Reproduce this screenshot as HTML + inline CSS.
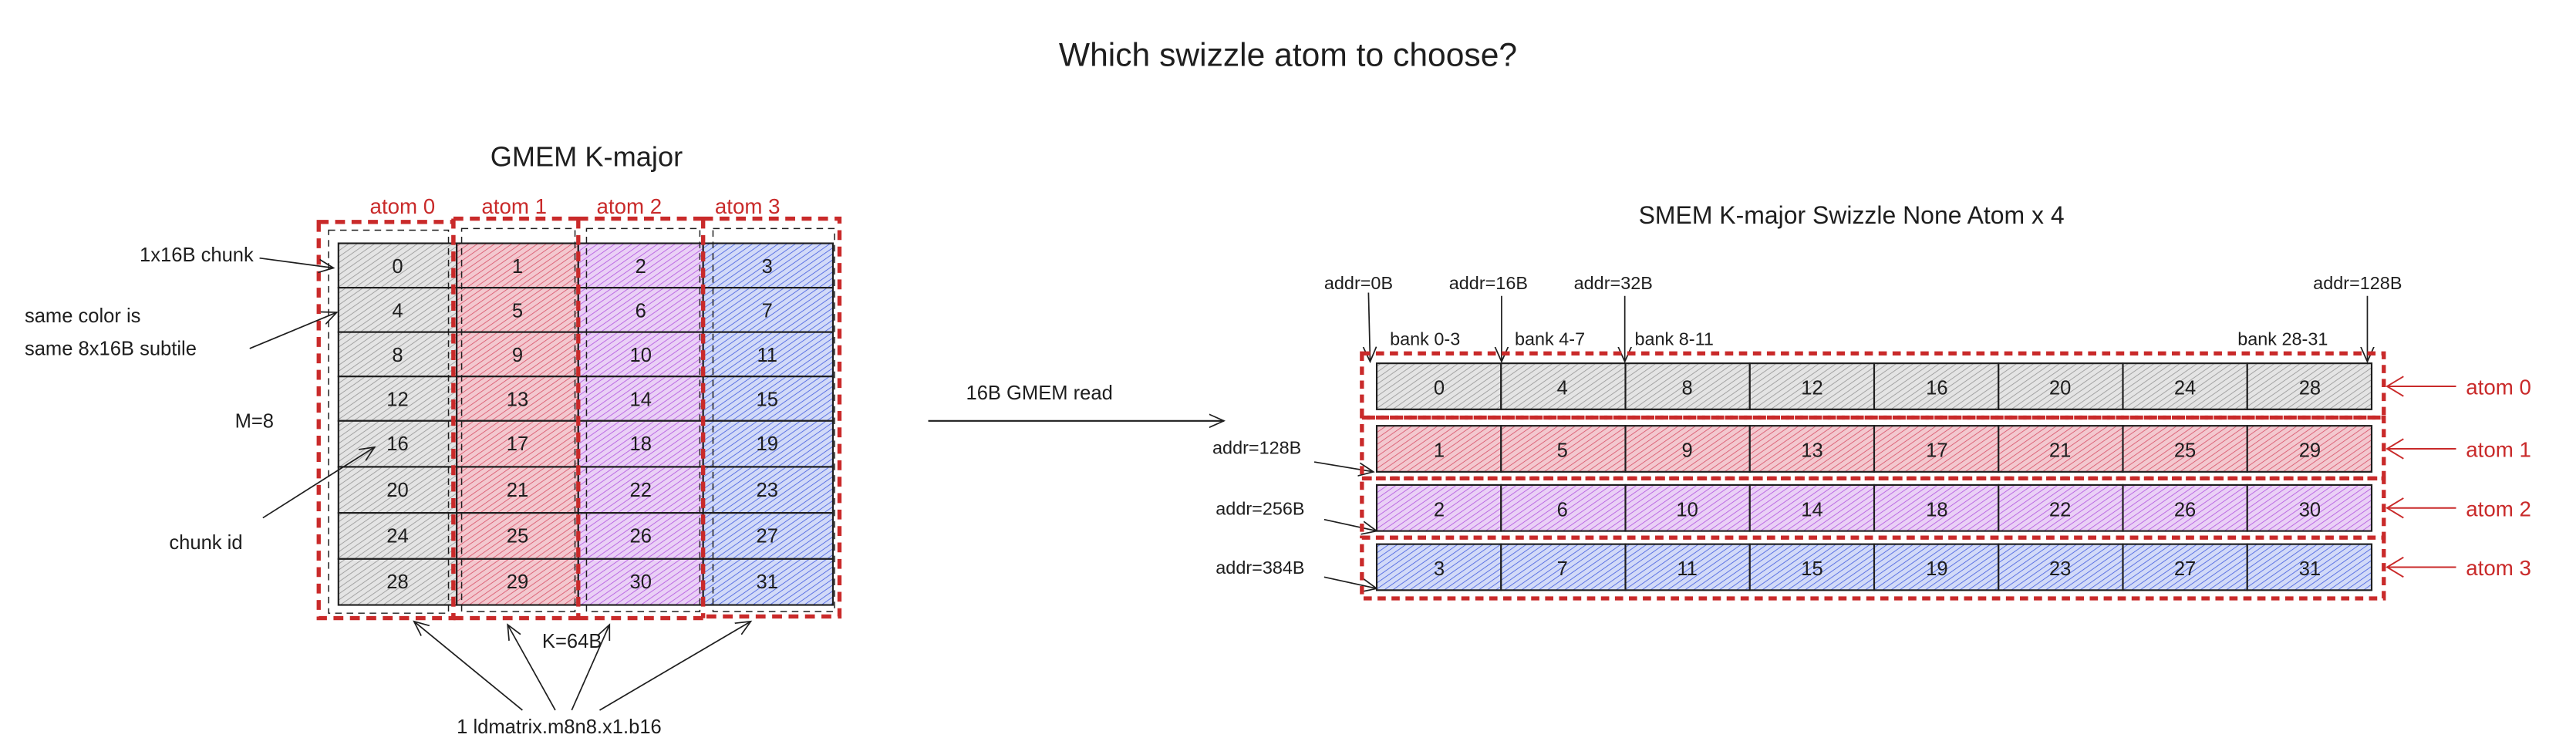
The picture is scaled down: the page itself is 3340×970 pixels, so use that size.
<!DOCTYPE html>
<html><head><meta charset="utf-8"><style>
html,body{margin:0;padding:0;background:#fff;width:3340px;height:970px;overflow:hidden}
svg{display:block}
text{font-family:"Liberation Sans",sans-serif;fill:#1e1e1e}
.r{fill:#c92a2a}
</style></head><body>
<svg width="3340" height="970" viewBox="0 0 1568 455" preserveAspectRatio="none" xmlns="http://www.w3.org/2000/svg">
<defs>
<pattern id="hg" width="3" height="3" patternUnits="userSpaceOnUse" patternTransform="rotate(55)"><rect width="3" height="3" fill="#e4e4e4"/><line x1="0" y1="0" x2="0" y2="3" stroke="#999" stroke-width="0.8"/></pattern>
<pattern id="hr" width="3" height="3" patternUnits="userSpaceOnUse" patternTransform="rotate(55)"><rect width="3" height="3" fill="#f3c8cf"/><line x1="0" y1="0" x2="0" y2="3" stroke="#d9566c" stroke-width="0.8"/></pattern>
<pattern id="hp" width="3" height="3" patternUnits="userSpaceOnUse" patternTransform="rotate(55)"><rect width="3" height="3" fill="#ead0f6"/><line x1="0" y1="0" x2="0" y2="3" stroke="#b45ae0" stroke-width="0.8"/></pattern>
<pattern id="hb" width="3" height="3" patternUnits="userSpaceOnUse" patternTransform="rotate(55)"><rect width="3" height="3" fill="#d2daf8"/><line x1="0" y1="0" x2="0" y2="3" stroke="#4a63e0" stroke-width="0.8"/></pattern>
<marker id="ah" markerWidth="10" markerHeight="10" refX="9" refY="5" orient="auto" markerUnits="userSpaceOnUse"><path d="M0,1 L9,5 L0,9" fill="none" stroke="#1e1e1e" stroke-width="0.8"/></marker>
<marker id="ar" markerWidth="12" markerHeight="14" refX="1" refY="7" orient="auto" markerUnits="userSpaceOnUse"><path d="M11,1 L1,7 L11,13" fill="none" stroke="#c92a2a" stroke-width="0.9"/></marker>
</defs>

<text x="784" y="40" font-size="20" text-anchor="middle">Which swizzle atom to choose?</text>

<text x="357" y="101" font-size="17" text-anchor="middle">GMEM K-major</text>
<g font-size="13" text-anchor="middle">
<text x="245" y="130" class="r">atom 0</text><text x="313" y="130" class="r">atom 1</text><text x="383" y="130" class="r">atom 2</text><text x="455" y="130" class="r">atom 3</text>
</g>
<g stroke="#1e1e1e" stroke-width="1">
<rect x="206" y="148" width="72" height="27" fill="url(#hg)"/><rect x="278" y="148" width="74" height="27" fill="url(#hr)"/><rect x="352" y="148" width="76" height="27" fill="url(#hp)"/><rect x="428" y="148" width="79" height="27" fill="url(#hb)"/>
<rect x="206" y="175" width="72" height="27" fill="url(#hg)"/><rect x="278" y="175" width="74" height="27" fill="url(#hr)"/><rect x="352" y="175" width="76" height="27" fill="url(#hp)"/><rect x="428" y="175" width="79" height="27" fill="url(#hb)"/>
<rect x="206" y="202" width="72" height="27" fill="url(#hg)"/><rect x="278" y="202" width="74" height="27" fill="url(#hr)"/><rect x="352" y="202" width="76" height="27" fill="url(#hp)"/><rect x="428" y="202" width="79" height="27" fill="url(#hb)"/>
<rect x="206" y="229" width="72" height="27" fill="url(#hg)"/><rect x="278" y="229" width="74" height="27" fill="url(#hr)"/><rect x="352" y="229" width="76" height="27" fill="url(#hp)"/><rect x="428" y="229" width="79" height="27" fill="url(#hb)"/>
<rect x="206" y="256" width="72" height="28" fill="url(#hg)"/><rect x="278" y="256" width="74" height="28" fill="url(#hr)"/><rect x="352" y="256" width="76" height="28" fill="url(#hp)"/><rect x="428" y="256" width="79" height="28" fill="url(#hb)"/>
<rect x="206" y="284" width="72" height="28" fill="url(#hg)"/><rect x="278" y="284" width="74" height="28" fill="url(#hr)"/><rect x="352" y="284" width="76" height="28" fill="url(#hp)"/><rect x="428" y="284" width="79" height="28" fill="url(#hb)"/>
<rect x="206" y="312" width="72" height="28" fill="url(#hg)"/><rect x="278" y="312" width="74" height="28" fill="url(#hr)"/><rect x="352" y="312" width="76" height="28" fill="url(#hp)"/><rect x="428" y="312" width="79" height="28" fill="url(#hb)"/>
<rect x="206" y="340" width="72" height="28" fill="url(#hg)"/><rect x="278" y="340" width="74" height="28" fill="url(#hr)"/><rect x="352" y="340" width="76" height="28" fill="url(#hp)"/><rect x="428" y="340" width="79" height="28" fill="url(#hb)"/>
</g>
<g font-size="12" text-anchor="middle">
<text x="242" y="166">0</text><text x="315" y="166">1</text><text x="390" y="166">2</text><text x="467" y="166">3</text>
<text x="242" y="193">4</text><text x="315" y="193">5</text><text x="390" y="193">6</text><text x="467" y="193">7</text>
<text x="242" y="220">8</text><text x="315" y="220">9</text><text x="390" y="220">10</text><text x="467" y="220">11</text>
<text x="242" y="247">12</text><text x="315" y="247">13</text><text x="390" y="247">14</text><text x="467" y="247">15</text>
<text x="242" y="274">16</text><text x="315" y="274">17</text><text x="390" y="274">18</text><text x="467" y="274">19</text>
<text x="242" y="302">20</text><text x="315" y="302">21</text><text x="390" y="302">22</text><text x="467" y="302">23</text>
<text x="242" y="330">24</text><text x="315" y="330">25</text><text x="390" y="330">26</text><text x="467" y="330">27</text>
<text x="242" y="358">28</text><text x="315" y="358">29</text><text x="390" y="358">30</text><text x="467" y="358">31</text>
</g>
<g fill="none" stroke="#1e1e1e" stroke-width="0.7" stroke-dasharray="4 3">
<rect x="200" y="140" width="73" height="233"/><rect x="281" y="139" width="69" height="233"/><rect x="357" y="139" width="69" height="233"/><rect x="434" y="139" width="74" height="233"/>
</g>
<g fill="none" stroke="#c92a2a" stroke-width="2.5" stroke-dasharray="6 4">
<rect x="194" y="135" width="82" height="241"/>
<path d="M276,133 H352 M276,376 H352 M352,133 H428 M352,376 H428 M428,133 H511 V375 H428 M276,133 V376 M352,133 V376 M428,133 V376"/>
</g>
<g font-size="12">
<text x="85" y="159">1x16B chunk</text>
<text x="15" y="196">same color is</text>
<text x="15" y="216">same 8x16B subtile</text>
<text x="143" y="260">M=8</text>
<text x="103" y="334">chunk id</text>
<text x="330" y="394">K=64B</text>
<text x="278" y="446">1 ldmatrix.m8n8.x1.b16</text>
</g>
<g stroke="#1e1e1e" stroke-width="0.8" fill="none" marker-end="url(#ah)">
<line x1="158" y1="157" x2="203" y2="163"/>
<line x1="152" y1="212" x2="205" y2="190"/>
<line x1="160" y1="315" x2="228" y2="272"/>
<line x1="318" y1="432" x2="252" y2="378"/>
<line x1="338" y1="432" x2="309" y2="380"/>
<line x1="348" y1="432" x2="371" y2="380"/>
<line x1="365" y1="432" x2="457" y2="378"/>
</g>

<text x="588" y="243" font-size="12">16B GMEM read</text>
<line x1="565" y1="256" x2="745" y2="256" stroke="#1e1e1e" stroke-width="1" marker-end="url(#ah)"/>

<text x="1127" y="136" font-size="15" text-anchor="middle">SMEM K-major Swizzle None Atom x 4</text>
<g font-size="11">
<text x="806" y="176">addr=0B</text><text x="882" y="176">addr=16B</text><text x="958" y="176">addr=32B</text><text x="1408" y="176">addr=128B</text>
<text x="846" y="210">bank 0-3</text><text x="922" y="210">bank 4-7</text><text x="995" y="210">bank 8-11</text><text x="1362" y="210">bank 28-31</text>
<text x="738" y="276">addr=128B</text><text x="740" y="313">addr=256B</text><text x="740" y="349">addr=384B</text>
</g>
<g stroke="#1e1e1e" stroke-width="0.8" fill="none" marker-end="url(#ah)">
<line x1="833" y1="178" x2="834" y2="220"/><line x1="914" y1="180" x2="914" y2="220"/><line x1="989" y1="180" x2="989" y2="220"/><line x1="1441" y1="180" x2="1441" y2="220"/>
<line x1="800" y1="281" x2="836" y2="287"/><line x1="806" y1="316" x2="838" y2="323"/><line x1="806" y1="351" x2="838" y2="358"/>
</g>
<g stroke="#1e1e1e" stroke-width="1">
<rect x="838" y="221" width="75.7" height="28" fill="url(#hg)"/><rect x="913.7" y="221" width="75.7" height="28" fill="url(#hg)"/><rect x="989.4" y="221" width="75.7" height="28" fill="url(#hg)"/><rect x="1065.1" y="221" width="75.7" height="28" fill="url(#hg)"/><rect x="1140.8" y="221" width="75.7" height="28" fill="url(#hg)"/><rect x="1216.5" y="221" width="75.7" height="28" fill="url(#hg)"/><rect x="1292.2" y="221" width="75.7" height="28" fill="url(#hg)"/><rect x="1367.9" y="221" width="75.7" height="28" fill="url(#hg)"/>
<rect x="838" y="259" width="75.7" height="28" fill="url(#hr)"/><rect x="913.7" y="259" width="75.7" height="28" fill="url(#hr)"/><rect x="989.4" y="259" width="75.7" height="28" fill="url(#hr)"/><rect x="1065.1" y="259" width="75.7" height="28" fill="url(#hr)"/><rect x="1140.8" y="259" width="75.7" height="28" fill="url(#hr)"/><rect x="1216.5" y="259" width="75.7" height="28" fill="url(#hr)"/><rect x="1292.2" y="259" width="75.7" height="28" fill="url(#hr)"/><rect x="1367.9" y="259" width="75.7" height="28" fill="url(#hr)"/>
<rect x="838" y="295" width="75.7" height="28" fill="url(#hp)"/><rect x="913.7" y="295" width="75.7" height="28" fill="url(#hp)"/><rect x="989.4" y="295" width="75.7" height="28" fill="url(#hp)"/><rect x="1065.1" y="295" width="75.7" height="28" fill="url(#hp)"/><rect x="1140.8" y="295" width="75.7" height="28" fill="url(#hp)"/><rect x="1216.5" y="295" width="75.7" height="28" fill="url(#hp)"/><rect x="1292.2" y="295" width="75.7" height="28" fill="url(#hp)"/><rect x="1367.9" y="295" width="75.7" height="28" fill="url(#hp)"/>
<rect x="838" y="331" width="75.7" height="28" fill="url(#hb)"/><rect x="913.7" y="331" width="75.7" height="28" fill="url(#hb)"/><rect x="989.4" y="331" width="75.7" height="28" fill="url(#hb)"/><rect x="1065.1" y="331" width="75.7" height="28" fill="url(#hb)"/><rect x="1140.8" y="331" width="75.7" height="28" fill="url(#hb)"/><rect x="1216.5" y="331" width="75.7" height="28" fill="url(#hb)"/><rect x="1292.2" y="331" width="75.7" height="28" fill="url(#hb)"/><rect x="1367.9" y="331" width="75.7" height="28" fill="url(#hb)"/>
</g>
<g font-size="12" text-anchor="middle">
<text x="876" y="240">0</text><text x="951" y="240">4</text><text x="1027" y="240">8</text><text x="1103" y="240">12</text><text x="1179" y="240">16</text><text x="1254" y="240">20</text><text x="1330" y="240">24</text><text x="1406" y="240">28</text>
<text x="876" y="278">1</text><text x="951" y="278">5</text><text x="1027" y="278">9</text><text x="1103" y="278">13</text><text x="1179" y="278">17</text><text x="1254" y="278">21</text><text x="1330" y="278">25</text><text x="1406" y="278">29</text>
<text x="876" y="314">2</text><text x="951" y="314">6</text><text x="1027" y="314">10</text><text x="1103" y="314">14</text><text x="1179" y="314">18</text><text x="1254" y="314">22</text><text x="1330" y="314">26</text><text x="1406" y="314">30</text>
<text x="876" y="350">3</text><text x="951" y="350">7</text><text x="1027" y="350">11</text><text x="1103" y="350">15</text><text x="1179" y="350">19</text><text x="1254" y="350">23</text><text x="1330" y="350">27</text><text x="1406" y="350">31</text>
</g>
<g fill="none" stroke="#c92a2a" stroke-width="2.5" stroke-dasharray="5 3.5">
<rect x="829" y="215" width="622" height="39"/><rect x="829" y="254" width="622" height="37"/><rect x="829" y="291" width="622" height="36"/><rect x="829" y="327" width="622" height="37"/>
</g>
<g stroke="#c92a2a" stroke-width="0.9" fill="none" marker-start="url(#ar)">
<line x1="1453" y1="235" x2="1495" y2="235"/><line x1="1453" y1="273" x2="1495" y2="273"/><line x1="1453" y1="309" x2="1495" y2="309"/><line x1="1453" y1="345" x2="1495" y2="345"/>
</g>
<g font-size="13">
<text x="1501" y="240" class="r">atom 0</text><text x="1501" y="278" class="r">atom 1</text><text x="1501" y="314" class="r">atom 2</text><text x="1501" y="350" class="r">atom 3</text>
</g>
</svg>
</body></html>
